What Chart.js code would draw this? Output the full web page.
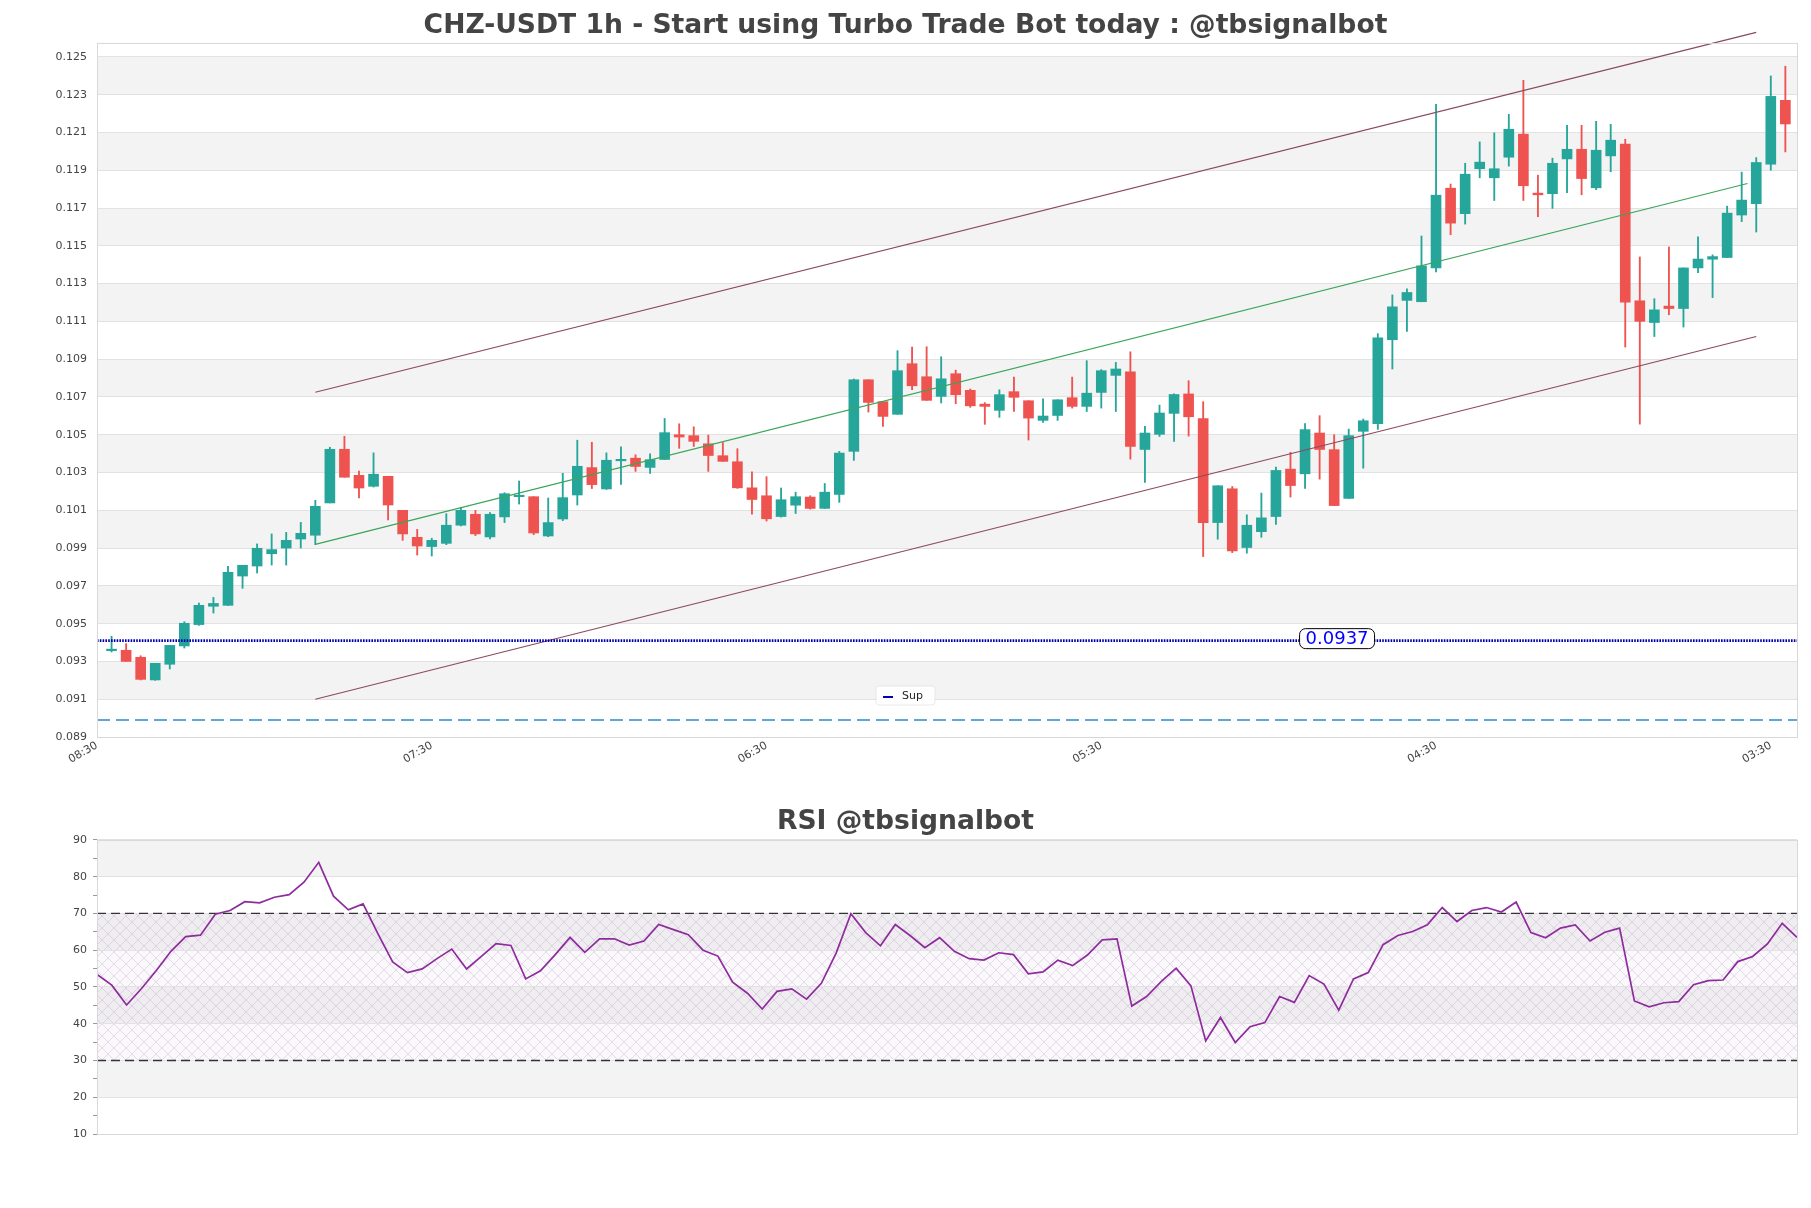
<!DOCTYPE html>
<html>
<head>
<meta charset="utf-8">
<title>CHZ-USDT 1h</title>
<script src="https://cdn.jsdelivr.net/npm/chart.js@4.4.1/dist/chart.umd.min.js"></script>
<style>
  html, body { margin: 0; padding: 0; background: #fff; }
  #wrap { position: relative; width: 1811px; height: 1208px; }
  #price-box { position: absolute; left: 0; top: 0; width: 1811px; height: 790px; }
  #rsi-box { position: absolute; left: 0; top: 790px; width: 1811px; height: 418px; }
</style>
</head>
<body>
<div id="wrap">
  <div id="price-box"><canvas id="price-chart"></canvas></div>
  <div id="rsi-box"><canvas id="rsi-chart"></canvas></div>
</div>
<script>
// hourly candles, index 0 = first bar after the 08:30 tick
const opens = [
  0.09357, 0.09359, 0.09322, 0.09202, 0.09285, 0.09382, 0.09495, 0.09592, 0.09597, 0.09752,
  0.09805, 0.09870, 0.09900, 0.09948, 0.09968, 0.10139, 0.10423, 0.10285, 0.10227, 0.10280,
  0.10100, 0.09957, 0.09908, 0.09925, 0.10021, 0.10079, 0.09959, 0.10065, 0.10172, 0.10172,
  0.09964, 0.10054, 0.10181, 0.10326, 0.10213, 0.10362, 0.10376, 0.10327, 0.10369, 0.10500,
  0.10495, 0.10452, 0.10389, 0.10357, 0.10219, 0.10177, 0.10067, 0.10127, 0.10170, 0.10110,
  0.10184, 0.10412, 0.10791, 0.10675, 0.10608, 0.10876, 0.10807, 0.10703, 0.10823, 0.10735,
  0.10662, 0.10629, 0.10728, 0.10680, 0.10576, 0.10602, 0.10696, 0.10650, 0.10724, 0.10814,
  0.10833, 0.10422, 0.10502, 0.10613, 0.10716, 0.10585, 0.10035, 0.10214, 0.09903, 0.09987,
  0.10067, 0.10318, 0.10293, 0.10509, 0.10421, 0.10163, 0.10518, 0.10559, 0.11003, 0.11211,
  0.11204, 0.11383, 0.11805, 0.11670, 0.11908, 0.11860, 0.11969, 0.12091, 0.11779, 0.11776,
  0.11960, 0.12011, 0.11807, 0.11976, 0.12038, 0.11209, 0.11094, 0.11181, 0.11168, 0.11383,
  0.11429, 0.11438, 0.11663, 0.11723, 0.11932, 0.12270
];
const highs = [
  0.09433, 0.09394, 0.09330, 0.09290, 0.09385, 0.09510, 0.09609, 0.09639, 0.09803, 0.09809,
  0.09922, 0.09975, 0.09983, 0.10036, 0.10153, 0.10434, 0.10492, 0.10308, 0.10404, 0.10280,
  0.10100, 0.09999, 0.09952, 0.10082, 0.10116, 0.10100, 0.10088, 0.10193, 0.10255, 0.10172,
  0.10165, 0.10296, 0.10471, 0.10460, 0.10404, 0.10436, 0.10394, 0.10399, 0.10586, 0.10558,
  0.10542, 0.10498, 0.10459, 0.10426, 0.10304, 0.10278, 0.10218, 0.10196, 0.10177, 0.10242,
  0.10412, 0.10795, 0.10791, 0.10675, 0.10945, 0.10964, 0.10966, 0.10913, 0.10842, 0.10742,
  0.10670, 0.10738, 0.10805, 0.10680, 0.10690, 0.10685, 0.10805, 0.10892, 0.10845, 0.10883,
  0.10939, 0.10544, 0.10657, 0.10716, 0.10786, 0.10675, 0.10230, 0.10226, 0.10076, 0.10191,
  0.10329, 0.10407, 0.10559, 0.10601, 0.10500, 0.10530, 0.10583, 0.11035, 0.11240, 0.11272,
  0.11552, 0.12249, 0.11827, 0.11937, 0.12050, 0.12098, 0.12196, 0.12376, 0.11874, 0.11964,
  0.12138, 0.12138, 0.12159, 0.12143, 0.12064, 0.11441, 0.11220, 0.11494, 0.11383, 0.11547,
  0.11452, 0.11710, 0.11890, 0.11967, 0.12399, 0.12450
];
const lows = [
  0.09350, 0.09300, 0.09202, 0.09200, 0.09260, 0.09371, 0.09491, 0.09556, 0.09597, 0.09687,
  0.09768, 0.09810, 0.09810, 0.09900, 0.09918, 0.10139, 0.10275, 0.10165, 0.10223, 0.10049,
  0.09941, 0.09863, 0.09858, 0.09918, 0.10017, 0.09966, 0.09948, 0.10035, 0.10133, 0.09971,
  0.09960, 0.10045, 0.10128, 0.10215, 0.10210, 0.10237, 0.10306, 0.10295, 0.10369, 0.10428,
  0.10438, 0.10306, 0.10359, 0.10216, 0.10080, 0.10043, 0.10064, 0.10083, 0.10106, 0.10110,
  0.10142, 0.10364, 0.10620, 0.10544, 0.10608, 0.10738, 0.10682, 0.10668, 0.10664, 0.10645,
  0.10555, 0.10592, 0.10623, 0.10472, 0.10565, 0.10576, 0.10641, 0.10623, 0.10641, 0.10623,
  0.10371, 0.10248, 0.10491, 0.10465, 0.10493, 0.09855, 0.09947, 0.09876, 0.09873, 0.09957,
  0.10025, 0.10170, 0.10216, 0.10265, 0.10125, 0.10163, 0.10323, 0.10528, 0.10848, 0.11047,
  0.11204, 0.11362, 0.11559, 0.11615, 0.11860, 0.11740, 0.11922, 0.11740, 0.11654, 0.11698,
  0.11781, 0.11770, 0.11797, 0.11892, 0.10964, 0.10556, 0.11020, 0.11135, 0.11070, 0.11358,
  0.11226, 0.11438, 0.11628, 0.11573, 0.11900, 0.11997
];
const closes = [
  0.09362, 0.09300, 0.09205, 0.09290, 0.09385, 0.09502, 0.09597, 0.09607, 0.09772, 0.09809,
  0.09899, 0.09892, 0.09941, 0.09978, 0.10121, 0.10423, 0.10275, 0.10218, 0.10291, 0.10128,
  0.09975, 0.09911, 0.09941, 0.10021, 0.10100, 0.09975, 0.10079, 0.10188, 0.10176, 0.09980,
  0.10035, 0.10167, 0.10333, 0.10236, 0.10365, 0.10366, 0.10332, 0.10368, 0.10511, 0.10488,
  0.10465, 0.10390, 0.10359, 0.10219, 0.10157, 0.10055, 0.10156, 0.10172, 0.10110, 0.10196,
  0.10403, 0.10791, 0.10671, 0.10597, 0.10839, 0.10759, 0.10682, 0.10796, 0.10712, 0.10653,
  0.10650, 0.10712, 0.10698, 0.10588, 0.10599, 0.10685, 0.10650, 0.10720, 0.10839, 0.10848,
  0.10438, 0.10509, 0.10615, 0.10713, 0.10595, 0.10035, 0.10230, 0.09885, 0.10021, 0.10060,
  0.10311, 0.10231, 0.10527, 0.10422, 0.10125, 0.10495, 0.10574, 0.11013, 0.11177, 0.11253,
  0.11394, 0.11768, 0.11620, 0.11879, 0.11943, 0.11908, 0.12117, 0.11818, 0.11770, 0.11937,
  0.12011, 0.11856, 0.12006, 0.12059, 0.11202, 0.11100, 0.11161, 0.11168, 0.11383, 0.11430,
  0.11443, 0.11673, 0.11742, 0.11941, 0.12291, 0.12145
];

const rsiValues = [
  53.4, 50.5, 45.1, 49.5, 54.4, 59.7, 63.7, 64.1, 69.8, 70.8,
  73.2, 72.9, 74.4, 75.1, 78.5, 83.9, 74.7, 71.0, 72.6, 64.5,
  56.8, 53.9, 54.9, 57.7, 60.3, 54.9, 58.3, 61.8, 61.3, 52.2,
  54.4, 58.8, 63.5, 59.4, 63.1, 63.1, 61.4, 62.5, 67.0, 65.6,
  64.2, 60.0, 58.4, 51.3, 48.3, 44.0, 48.8, 49.5, 46.7, 51.0,
  59.2, 69.9, 64.8, 61.2, 67.0, 64.0, 60.7, 63.4, 59.7, 57.7,
  57.3, 59.3, 58.8, 53.6, 54.1, 57.3, 55.8, 58.7, 62.8, 63.1,
  44.8, 47.4, 51.5, 55.1, 50.3, 35.3, 41.7, 34.9, 39.2, 40.3,
  47.4, 45.8, 53.1, 50.8, 43.7, 52.2, 53.9, 61.5, 64.0, 65.1,
  66.9, 71.6, 67.8, 70.8, 71.6, 70.4, 73.1, 64.8, 63.4, 66.0,
  66.9, 62.5, 64.9, 66.0, 46.2, 44.6, 45.7, 46.0, 50.6, 51.7,
  51.9, 56.9, 58.3, 61.7, 67.3, 63.5
];

// x axis: ticks every 23 bars
const timeTicks = [-1, 22, 45, 68, 91, 114];
const timeLabels = ['08:30', '07:30', '06:30', '05:30', '04:30', '03:30'];
const priceTicks = [0.089, 0.091, 0.093, 0.095, 0.097, 0.099, 0.101, 0.103, 0.105, 0.107,
  0.109, 0.111, 0.113, 0.115, 0.117, 0.119, 0.121, 0.123, 0.125];
const rsiTicks = [10, 20, 30, 40, 50, 60, 70, 80, 90];

// channel (start / end bar, price)
const channelX = [14, 113];
const channelUpper = [0.10725, 0.12630];
const channelLower = [0.09100, 0.11020];
const channelMidX = [14, 112.4];
const channelMid = [0.09920, 0.11830];

const supLevel = 0.0941;
const supText = '0.0937';
const baseLevel = 0.0899;
const rsiHigh = 70;
const rsiLow = 30;

const upColor = '#26a69a';
const downColor = '#ef5350';
const bandColor = '#f3f3f3';

Chart.defaults.font.family = "'DejaVu Sans', sans-serif";
Chart.defaults.color = '#444';

const isUp = closes.map((c, i) => c >= opens[i]);
const candleColor = (ctx) => (isUp[ctx.dataIndex] ? upColor : downColor);

function hatchPattern(ctx) {
  const c = document.createElement('canvas');
  c.width = 12;
  c.height = 12;
  const g = c.getContext('2d');
  g.strokeStyle = 'rgba(165,140,185,0.35)';
  g.lineWidth = 0.8;
  g.beginPath();
  g.moveTo(0, 0); g.lineTo(12, 12);
  g.moveTo(12, 0); g.lineTo(0, 12);
  g.stroke();
  return ctx.createPattern(c, 'repeat');
}

// alternating grey bands + optional hatched zone
const bandsPlugin = {
  id: 'bands',
  beforeDraw(chart, args, opts) {
    const { ctx, chartArea: a } = chart;
    const y = chart.scales.y;
    const t = opts.ticks;
    ctx.save();
    ctx.fillStyle = bandColor;
    for (let k = 1; k + 1 < t.length; k += 2) {
      const top = y.getPixelForValue(t[k + 1]);
      const bottom = y.getPixelForValue(t[k]);
      ctx.fillRect(a.left, top, a.right - a.left, bottom - top);
    }
    if (opts.hatch) {
      const top = y.getPixelForValue(opts.hatch[1]);
      const bottom = y.getPixelForValue(opts.hatch[0]);
      ctx.fillStyle = 'rgba(215,190,225,0.10)';
      ctx.fillRect(a.left, top, a.right - a.left, bottom - top);
      ctx.fillStyle = hatchPattern(ctx);
      ctx.fillRect(a.left, top, a.right - a.left, bottom - top);
    }
    ctx.restore();
  },
  afterDraw(chart) {
    const { ctx, chartArea: a } = chart;
    ctx.save();
    ctx.strokeStyle = '#d8d8d8';
    ctx.lineWidth = 1;
    ctx.strokeRect(a.left + 0.5, a.top + 0.5, a.right - a.left, a.bottom - a.top);
    ctx.restore();
  }
};

// price label on the support line and the small "Sup" legend
const supPlugin = {
  id: 'sup',
  afterDatasetsDraw(chart, args, o) {
    const { ctx, chartArea: a } = chart;
    const { x, y } = chart.scales;
    const px = x.getPixelForValue(o.at);
    const py = y.getPixelForValue(o.value) - 2;
    ctx.save();
    ctx.font = "18px 'DejaVu Sans'";
    const w = ctx.measureText(o.text).width + 12;
    const h = 20;
    ctx.beginPath();
    ctx.roundRect(px - w / 2, py - h / 2, w, h, 6);
    ctx.fillStyle = '#fff';
    ctx.fill();
    ctx.strokeStyle = '#000';
    ctx.lineWidth = 1;
    ctx.stroke();
    ctx.fillStyle = '#0000ff';
    ctx.textAlign = 'center';
    ctx.textBaseline = 'middle';
    ctx.fillText(o.text, px, py + 1);

    // legend
    const label = chart.data.datasets[0].label;
    const lx = chart.width / 2;
    const ly = a.bottom - 51;
    ctx.font = "11px 'DejaVu Sans'";
    const lw = ctx.measureText(label).width + 38;
    ctx.fillStyle = 'rgba(255,255,255,0.9)';
    ctx.strokeStyle = 'rgba(220,220,220,0.6)';
    ctx.beginPath();
    ctx.roundRect(lx - lw / 2, ly, lw, 19, 3);
    ctx.fill();
    ctx.stroke();
    ctx.strokeStyle = chart.data.datasets[0].borderColor;
    ctx.lineWidth = 2;
    ctx.beginPath();
    ctx.moveTo(lx - lw / 2 + 7, ly + 11);
    ctx.lineTo(lx - lw / 2 + 17, ly + 11);
    ctx.stroke();
    ctx.fillStyle = '#222';
    ctx.textAlign = 'left';
    ctx.textBaseline = 'middle';
    ctx.fillText(label, lx - lw / 2 + 26, ly + 10);
    ctx.restore();
  }
};

const xMin = -1;
const xMax = 115.8;
const lineSet = (label, xs, ys, color, extra) => Object.assign({
  label,
  type: 'line',
  data: xs.map((v, i) => ({ x: v, y: ys[i] })),
  borderColor: color,
  borderWidth: 1.2,
  pointRadius: 0,
  clip: false,
  order: 1
}, extra);

new Chart(document.getElementById('price-chart'), {
  type: 'bar',
  data: {
    datasets: [
      lineSet('Sup', [xMin, xMax], [supLevel, supLevel], '#0000b0', { borderWidth: 2.6, borderDash: [1.6, 1.2], clip: true }),
      lineSet('base', [xMin, xMax], [baseLevel, baseLevel], '#2b8cc8', { borderWidth: 1.4, borderDash: [13, 6], clip: true }),
      lineSet('upper', channelX, channelUpper, '#8c4a5e'),
      lineSet('lower', channelX, channelLower, '#8c4a5e'),
      lineSet('mid', channelMidX, channelMid, '#3aa55a'),
      {
        label: 'wick',
        data: opens.map((o, i) => ({ x: i, y: [lows[i], highs[i]] })),
        backgroundColor: candleColor,
        barThickness: 1.2,
        grouped: false,
        order: 6
      },
      {
        label: 'body',
        data: opens.map((o, i) => ({ x: i, y: [o, closes[i]] })),
        backgroundColor: candleColor,
        barThickness: 10,
        minBarLength: 1.5,
        grouped: false,
        order: 5
      }
    ]
  },
  options: {
    responsive: true,
    maintainAspectRatio: false,
    animation: false,
    layout: { padding: { left: 14, right: 14, top: 0, bottom: 0 } },
    plugins: {
      legend: { display: false },
      tooltip: { enabled: false },
      title: {
        display: true,
        text: 'CHZ-USDT 1h - Start using Turbo Trade Bot today : @tbsignalbot',
        color: '#444',
        font: { size: 26.6, weight: 'bold' },
        padding: { top: 10, bottom: 1 }
      },
      bands: { ticks: priceTicks },
      sup: { text: supText, value: supLevel, at: 84.2 }
    },
    scales: {
      x: {
        type: 'linear',
        min: xMin,
        max: xMax,
        offset: false,
        grid: { display: false, offset: false },
        border: { display: false },
        afterBuildTicks: (s) => { s.ticks = timeTicks.map((v) => ({ value: v })); },
        afterFit: (s) => { s.height = 53; },
        ticks: {
          autoSkip: false,
          minRotation: 30,
          maxRotation: 30,
          padding: -6,
          font: { size: 11 },
          color: '#444',
          callback: (v) => timeLabels[timeTicks.indexOf(v)]
        }
      },
      y: {
        type: 'linear',
        min: 0.089,
        max: 0.12574,
        border: { display: false },
        grid: { color: '#e2e2e2', drawTicks: false },
        afterBuildTicks: (s) => { s.ticks = priceTicks.map((v) => ({ value: v })); },
        afterFit: (s) => { s.width = 83; },
        ticks: {
          padding: 10,
          font: { size: 11 },
          color: '#444',
          callback: (v) => v.toFixed(3)
        }
      }
    }
  },
  plugins: [bandsPlugin, supPlugin]
});

new Chart(document.getElementById('rsi-chart'), {
  type: 'line',
  data: {
    datasets: [
      {
        label: 'RSI',
        data: rsiValues.map((v, i) => ({ x: i, y: v })),
        borderColor: '#8e2b9d',
        borderWidth: 1.7,
        pointRadius: 0,
        order: 1
      },
      {
        label: 'overbought',
        data: [{ x: 0, y: rsiHigh }, { x: rsiValues.length - 1, y: rsiHigh }],
        borderColor: '#333',
        borderWidth: 1.3,
        borderDash: [9, 5],
        pointRadius: 0,
        order: 2
      },
      {
        label: 'oversold',
        data: [{ x: 0, y: rsiLow }, { x: rsiValues.length - 1, y: rsiLow }],
        borderColor: '#333',
        borderWidth: 1.3,
        borderDash: [9, 5],
        pointRadius: 0,
        order: 2
      }
    ]
  },
  options: {
    responsive: true,
    maintainAspectRatio: false,
    animation: false,
    layout: { padding: { left: 14, right: 14, top: 0, bottom: 74 } },
    plugins: {
      legend: { display: false },
      tooltip: { enabled: false },
      title: {
        display: true,
        text: 'RSI @tbsignalbot',
        color: '#444',
        font: { size: 26.6, weight: 'bold' },
        padding: { top: 16, bottom: 2 }
      },
      bands: { ticks: rsiTicks, hatch: [rsiLow, rsiHigh] }
    },
    scales: {
      x: { type: 'linear', min: 0, max: rsiValues.length - 1, display: false },
      y: {
        min: 10,
        max: 90,
        border: { display: false },
        grid: {
          color: (c) => (c.tick && c.tick.value % 10 === 0 ? '#e2e2e2' : 'rgba(0,0,0,0)'),
          tickColor: '#999',
          tickLength: 4
        },
        afterFit: (s) => { s.width = 83; },
        ticks: {
          stepSize: 5,
          padding: 6,
          font: { size: 11 },
          color: '#444',
          callback: (v) => (rsiTicks.includes(v) ? v : '')
        }
      }
    }
  },
  plugins: [bandsPlugin]
});
</script>
</body>
</html>
